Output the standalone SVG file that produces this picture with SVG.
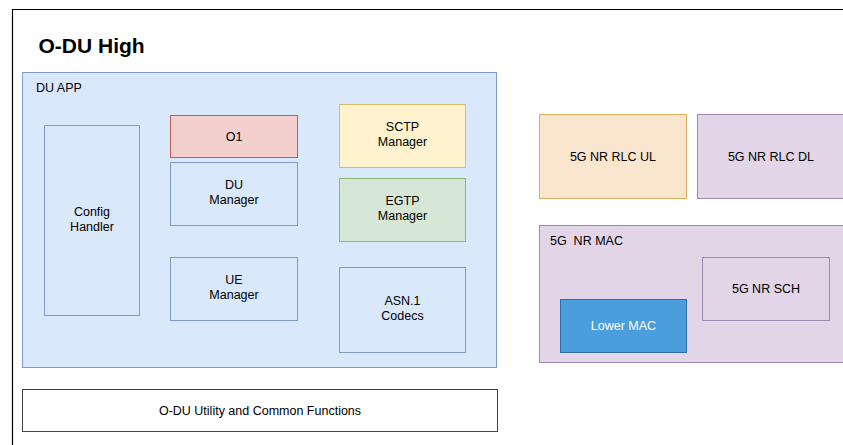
<svg xmlns="http://www.w3.org/2000/svg" width="843" height="445" viewBox="0 0 843 445">
<style>
text{font-family:"Liberation Sans",Arial,sans-serif;font-size:12.5px;fill:#000;text-anchor:middle}
.lbl{text-anchor:start}
.blue{fill:#dae8fc;stroke:#7f9acc;stroke-width:1}
.red{fill:#f3d0cd;stroke:#bf5f5b;stroke-width:1}
.yellow{fill:#fff2cf;stroke:#d8bb68;stroke-width:1}
.green{fill:#d7e7d5;stroke:#8cb87a;stroke-width:1}
.orange{fill:#fae5cf;stroke:#d8b060;stroke-width:1}
.purple{fill:#e1d5e7;stroke:#a088b4;stroke-width:1}
.lmac{fill:#4a9edb;stroke:#2e6da8;stroke-width:1}
.white{fill:#fff;stroke:#444;stroke-width:1}
</style>
<rect width="843" height="445" fill="#fff"/>
<g id="frame">
<path d="M12.5 445 V9.5 H843" fill="none" stroke="#000" stroke-width="1.2"/>
<text class="lbl" x="38.5" y="52.5" style="font-size:21px;font-weight:bold">O-DU High</text>
</g>
<g id="du-app">
<rect class="blue" x="22.5" y="72.5" width="474" height="295"/>
<text class="lbl" x="36" y="92">DU APP</text>
</g>
<g id="config-handler">
<rect class="blue" x="44.5" y="125.5" width="95" height="190"/>
<text x="92" y="216">Config</text>
<text x="92" y="231">Handler</text>
</g>
<g id="o1">
<rect class="red" x="170.5" y="115.5" width="127" height="42"/>
<text x="234" y="140.5">O1</text>
</g>
<g id="du-manager">
<rect class="blue" x="170.5" y="162.5" width="127" height="63"/>
<text x="234" y="189">DU</text>
<text x="234" y="204">Manager</text>
</g>
<g id="ue-manager">
<rect class="blue" x="170.5" y="257.5" width="127" height="63"/>
<text x="234" y="284">UE</text>
<text x="234" y="299">Manager</text>
</g>
<g id="sctp-manager">
<rect class="yellow" x="339.5" y="104.5" width="126" height="63"/>
<text x="402.5" y="131">SCTP</text>
<text x="402.5" y="146">Manager</text>
</g>
<g id="egtp-manager">
<rect class="green" x="339.5" y="178.5" width="126" height="63"/>
<text x="402.5" y="205">EGTP</text>
<text x="402.5" y="220">Manager</text>
</g>
<g id="asn1-codecs">
<rect class="blue" x="339.5" y="267.5" width="126" height="85"/>
<text x="402.5" y="305">ASN.1</text>
<text x="402.5" y="320">Codecs</text>
</g>
<g id="utility">
<rect class="white" x="22.5" y="389.5" width="475" height="42"/>
<text x="260" y="414.5">O-DU Utility and Common Functions</text>
</g>
<g id="rlc-ul">
<rect class="orange" x="539.5" y="114.5" width="147" height="84"/>
<text x="613" y="161">5G NR RLC UL</text>
</g>
<g id="rlc-dl">
<rect class="purple" x="697.5" y="114.5" width="160" height="84"/>
<text x="771" y="161">5G NR RLC DL</text>
</g>
<g id="nr-mac">
<rect class="purple" x="539.5" y="225.5" width="320" height="137"/>
<text class="lbl" x="550" y="245" xml:space="preserve" style="white-space:pre">5G  NR MAC</text>
</g>
<g id="nr-sch">
<rect class="purple" x="702.5" y="257.5" width="127" height="63"/>
<text x="766" y="293">5G NR SCH</text>
</g>
<g id="lower-mac">
<rect class="lmac" x="560.5" y="299.5" width="126" height="53"/>
<text x="623.5" y="330" style="fill:#fff">Lower MAC</text>
</g>
<g id="connectors"></g>
</svg>
